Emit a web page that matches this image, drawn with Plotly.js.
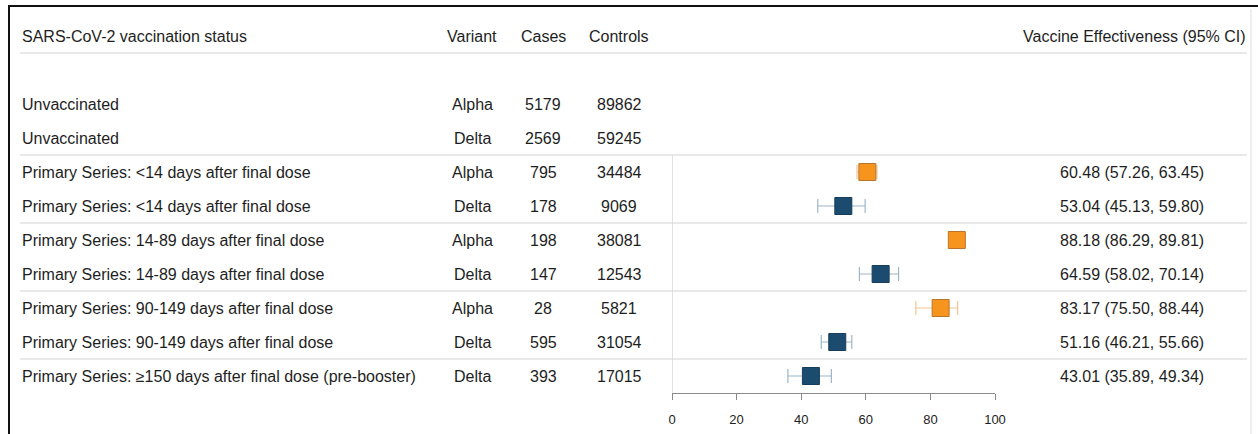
<!DOCTYPE html>
<html>
<head>
<meta charset="utf-8">
<script src="https://cdn.plot.ly/plotly-3.0.1.min.js"></script>
<style>html,body{margin:0;padding:0;background:#fff;}#chart{width:1258px;height:434px;}</style>
</head>
<body>
<div id="chart"></div>
<script>
// ---- data ----
const headers = ["SARS-CoV-2 vaccination status", "Variant", "Cases", "Controls", "Vaccine Effectiveness (95% CI)"];
const status = [
  "Unvaccinated",
  "Unvaccinated",
  "Primary Series: <14 days after final dose",
  "Primary Series: <14 days after final dose",
  "Primary Series: 14-89 days after final dose",
  "Primary Series: 14-89 days after final dose",
  "Primary Series: 90-149 days after final dose",
  "Primary Series: 90-149 days after final dose",
  "Primary Series: \u2265150 days after final dose (pre-booster)"
];
const variant = ["Alpha", "Delta", "Alpha", "Delta", "Alpha", "Delta", "Alpha", "Delta", "Delta"];
const cases = [5179, 2569, 795, 178, 198, 147, 28, 595, 393];
const controls = [89862, 59245, 34484, 9069, 38081, 12543, 5821, 31054, 17015];
const ve = [null, null, 60.48, 53.04, 88.18, 64.59, 83.17, 51.16, 43.01];
const veLow = [null, null, 57.26, 45.13, 86.29, 58.02, 75.50, 46.21, 35.89];
const veHigh = [null, null, 63.45, 59.80, 89.81, 70.14, 88.44, 55.66, 49.34];
const tickVals = [0, 20, 40, 60, 80, 100];

// ---- layout helpers ----
const W = 1258, H = 434;
const rowIdx = status.map((_, i) => i);
const ROW0 = 104, ROWH = 34; // pixel of row 0 and row spacing
const yTop = (0 - ROW0) / ROWH, yBot = (H - ROW0) / ROWH;
const headerRow = -2;
const px = v => v / W;
const FONT = "Liberation Sans, Arial, Helvetica, sans-serif";
const TXT = "#1e1e1e";

const colors = {Alpha: {fill: "#F7941D", line: "#B8742C", err: "#F4C48E"},
                Delta: {fill: "#1B4B6E", line: "#163E5C", err: "#9DB6C8"}};

const traces = ["Alpha", "Delta"].map(v => {
  const idx = rowIdx.filter(i => variant[i] === v && ve[i] !== null);
  return {
    type: "scatter", mode: "markers", xaxis: "x", yaxis: "y",
    x: idx.map(i => ve[i]), y: idx.map(i => i),
    marker: {symbol: "square", size: 17, color: colors[v].fill, line: {color: colors[v].line, width: 1}},
    error_x: {type: "data", symmetric: false,
      array: idx.map(i => veHigh[i] - ve[i]), arrayminus: idx.map(i => ve[i] - veLow[i]),
      color: colors[v].err, thickness: 1.2, width: 7},
    hoverinfo: "skip", showlegend: false
  };
});

const ann = [];
function txt(x, y, t, anchor) {
  ann.push({xref: "paper", yref: "y", x: px(x), y: y, text: t, showarrow: false,
    xanchor: anchor, yanchor: "middle", font: {family: FONT, size: 16, color: TXT}});
}
txt(20, headerRow, headers[0], "left");
txt(472, headerRow, headers[1], "center");
txt(543, headerRow, headers[2], "center");
txt(619, headerRow, headers[3], "center");
txt(1248, headerRow, headers[4], "right");
rowIdx.forEach(i => {
  txt(20, i, status[i], "left");
  txt(472, i, variant[i], "center");
  txt(543, i, String(cases[i]), "center");
  txt(619, i, String(controls[i]), "center");
  if (ve[i] !== null) {
    txt(1058, i, ve[i].toFixed(2) + " (" + veLow[i].toFixed(2) + ", " + veHigh[i].toFixed(2) + ")", "left");
  }
});

const shapes = [];
const sepColor = "#d4d4d4";
[headerRow + 0.5, 1.5, 3.5, 5.5, 7.5].forEach(y => {
  shapes.push({type: "line", xref: "paper", yref: "y", x0: px(20), x1: px(1247), y0: y, y1: y,
    line: {color: sepColor, width: 1.2}});
});
// vertical line at VE = 0 from first VE block down to axis
shapes.push({type: "line", xref: "x", yref: "y", x0: 0, x1: 0, y0: 1.5, y1: 8.5, line: {color: "#d0d0d0", width: 1.2}});
// frame
shapes.push({type: "line", xref: "paper", yref: "paper", x0: px(8), x1: 1, y0: 1 - 6 / H, y1: 1 - 6 / H, line: {color: "#111", width: 2}});
shapes.push({type: "line", xref: "paper", yref: "paper", x0: px(9), x1: px(9), y0: 0, y1: 1 - 6 / H, line: {color: "#111", width: 2}});
shapes.push({type: "line", xref: "paper", yref: "paper", x0: px(1251), x1: px(1251), y0: 0, y1: 1 - 9 / H, line: {color: "#dddddd", width: 1}});

const layout = {
  width: W, height: H, margin: {l: 0, r: 0, t: 0, b: 0},
  paper_bgcolor: "#fff", plot_bgcolor: "rgba(0,0,0,0)",
  xaxis: {domain: [px(672), px(995)], range: [0, 100], anchor: "free",
    position: 1 - (ROW0 + 8.5 * ROWH) / H,
    showgrid: false, zeroline: false, showline: true, linecolor: "#8a8a8a", linewidth: 1,
    ticks: "outside", ticklen: 6, tickcolor: "#8a8a8a", tickwidth: 1,
    tickvals: tickVals, ticktext: tickVals.map(String), ticklabelstandoff: 8,
    tickfont: {family: FONT, size: 13, color: "#222"}, fixedrange: true},
  yaxis: {domain: [0, 1], range: [yBot, yTop], visible: false, fixedrange: true},
  showlegend: false,
  annotations: ann, shapes: shapes
};

Plotly.newPlot("chart", traces, layout, {displayModeBar: false, staticPlot: true});
</script>
</body>
</html>
